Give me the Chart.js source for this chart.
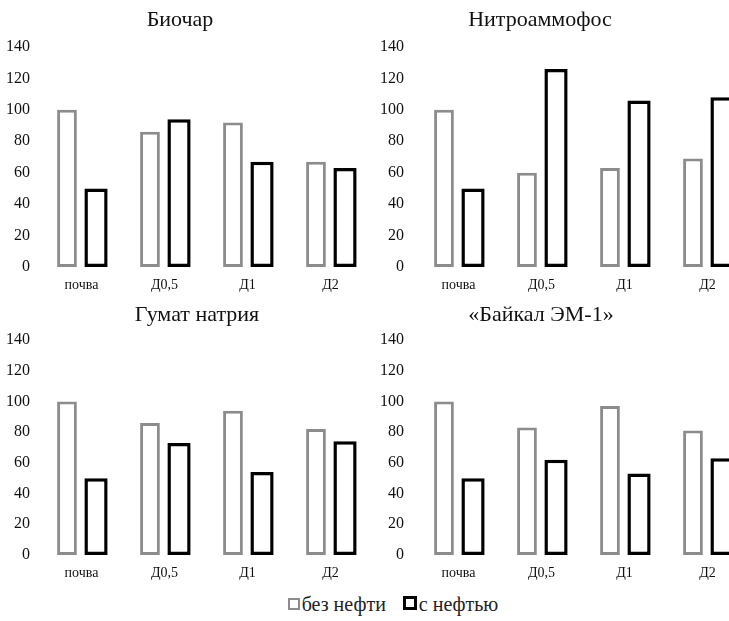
<!DOCTYPE html>
<html>
<head>
<meta charset="utf-8">
<script src="https://cdn.jsdelivr.net/npm/chart.js@4.4.1/dist/chart.umd.min.js"></script>
<style>
    html, body {
        margin: 0;
        padding: 0;
        background: #fff;
        overflow: hidden;
        width: 729px;
        height: 621px;
    }
    .panel {
        position: absolute;
    }
    .title {
        position: absolute;
        width: 300px;
        margin-left: -150px;
        text-align: center;
        font-family: 'Liberation Serif', 'Times New Roman', serif;
        font-size: 22px;
        line-height: 26px;
        color: #111;
        white-space: nowrap;
    }
    #legend {
        position: absolute;
        left: 0;
        width: 786px;
        top: 593px;
        text-align: center;
        font-family: 'Liberation Serif', 'Times New Roman', serif;
        font-size: 20px;
        color: #222;
        white-space: nowrap;
    }
    .legend-item {
        display: inline-block;
        margin: 0 6px;
    }
    .legend-box {
        display: inline-block;
        width: 8px;
        height: 8px;
        margin-right: 2px;
        vertical-align: 1px;
        background: #fff;
    }
</style>
</head>
<body>
<div class="panel" style="left:0; top:0;"><canvas id="chartBiochar" width="380" height="297"></canvas></div>
<div class="panel" style="left:364px; top:0;"><canvas id="chartNitro" width="390" height="297"></canvas></div>
<div class="panel" style="left:0; top:296px;"><canvas id="chartHumate" width="380" height="289"></canvas></div>
<div class="panel" style="left:364px; top:296px;"><canvas id="chartBaikal" width="390" height="289"></canvas></div>

<div class="title" style="left:180px; top:6px;">Биочар</div>
<div class="title" style="left:540px; top:6px;">Нитроаммофос</div>
<div class="title" style="left:197px; top:301px;">Гумат натрия</div>
<div class="title" style="left:541px; top:301px;">«Байкал ЭМ-1»</div>

<div id="legend"></div>

<script>
// Data
const categories = ['почва', 'Д0,5', 'Д1', 'Д2'];
const seriesNames = ['без нефти', 'с нефтью'];
const seriesColors = ['#8c8c8c', '#000000'];

const biocharNoOil = [100, 86, 92, 67];
const biocharOil = [50, 94, 67, 63];

const nitroNoOil = [100, 60, 63, 69];
const nitroOil = [50, 126, 106, 108];

const humateNoOil = [100, 86, 94, 82];
const humateOil = [50, 73, 54, 74];

const baikalNoOil = [100, 83, 97, 81];
const baikalOil = [50, 62, 53, 63];

const yMin = 0;
const yMax = 140;
const yStep = 20;

const serif = "'Liberation Serif', 'Times New Roman', serif";

// gray bars look a bit narrower and thinner-edged than the black ones
const barStyles = [
    { borderWidth: 3, barPercentage: 0.68 },
    { borderWidth: 3.5, barPercentage: 0.8 }
];

function makePanel(canvasId, noOil, withOil, opts) {
    const ctx = document.getElementById(canvasId).getContext('2d');

    return new Chart(ctx, {
        type: 'bar',
        data: {
            labels: categories,
            datasets: [noOil, withOil].map((values, i) => ({
                label: seriesNames[i],
                data: values,
                backgroundColor: '#ffffff',
                borderColor: seriesColors[i],
                borderWidth: barStyles[i].borderWidth,
                borderSkipped: false,
                categoryPercentage: 0.7,
                barPercentage: barStyles[i].barPercentage
            }))
        },
        options: {
            responsive: false,
            animation: false,
            devicePixelRatio: 1,
            layout: {
                padding: { left: 0, right: opts.padRight, top: opts.padTop, bottom: 2 }
            },
            plugins: {
                legend: { display: false },
                tooltip: { enabled: false },
                title: { display: false }
            },
            scales: {
                x: {
                    grid: { display: false, drawTicks: false },
                    border: { display: false },
                    ticks: {
                        color: '#111',
                        padding: 10,
                        font: { family: serif, size: 14 }
                    },
                    afterFit: function(scale) {
                        scale.height = 28;
                    }
                },
                y: {
                    min: yMin,
                    max: yMax,
                    grid: { display: false, drawTicks: false },
                    border: { display: false },
                    ticks: {
                        stepSize: yStep,
                        color: '#111',
                        padding: opts.tickPad,
                        font: { family: serif, size: 16 }
                    },
                    afterFit: function(scale) {
                        scale.width = opts.axisWidth;
                    }
                }
            }
        }
    });
}

const leftOpts = { axisWidth: 40, tickPad: 10, padRight: 8 };
const rightOpts = { axisWidth: 53, tickPad: 13, padRight: 5 };

makePanel('chartBiochar', biocharNoOil, biocharOil, Object.assign({ padTop: 47 }, leftOpts));
makePanel('chartNitro', nitroNoOil, nitroOil, Object.assign({ padTop: 47 }, rightOpts));
makePanel('chartHumate', humateNoOil, humateOil, Object.assign({ padTop: 44 }, leftOpts));
makePanel('chartBaikal', baikalNoOil, baikalOil, Object.assign({ padTop: 44 }, rightOpts));

// Shared legend under the four panels
document.getElementById('legend').innerHTML = seriesNames.map((name, i) => `
    <span class="legend-item">
        <span class="legend-box" style="border:${i === 0 ? 2 : 3}px solid ${seriesColors[i]}"></span>${name}
    </span>
`).join('');
</script>
</body>
</html>
